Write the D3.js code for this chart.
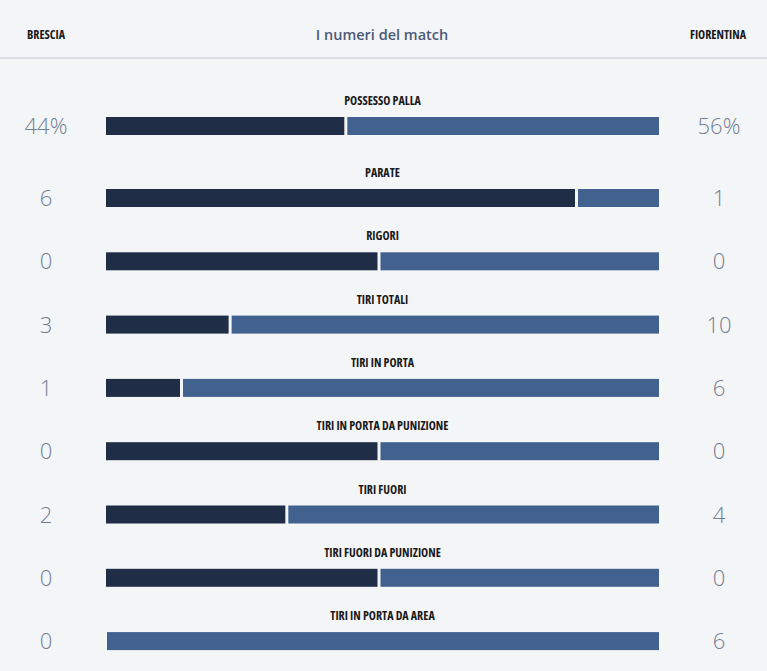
<!DOCTYPE html>
<html>
<head>
<meta charset="utf-8">
<script src="https://cdnjs.cloudflare.com/ajax/libs/d3/7.8.5/d3.min.js"></script>
<style>
  html, body { margin: 0; padding: 0; background: #f4f5f7; }
  .cond { font-family: "Open Sans", "Liberation Sans Narrow", sans-serif; font-stretch: condensed; }
</style>
</head>
<body>
<div id="chart"></div>
<script>
// match stats
var teams = ["BRESCIA", "FIORENTINA"];
var title = "I numeri del match";
var categories = ["POSSESSO PALLA", "PARATE", "RIGORI", "TIRI TOTALI", "TIRI IN PORTA",
  "TIRI IN PORTA DA PUNIZIONE", "TIRI FUORI", "TIRI FUORI DA PUNIZIONE", "TIRI IN PORTA DA AREA"];
var homeValues = [44, 6, 0, 3, 1, 0, 2, 0, 0];
var awayValues = [56, 1, 0, 10, 6, 0, 4, 0, 6];
var valueSuffix = ["%", "", "", "", "", "", "", "", ""];

var W = 767, H = 671;
var darkColor = "#1f2e46", blueColor = "#41618f";

var svg = d3.select("#chart").append("svg").attr("width", W).attr("height", H);
svg.append("rect").attr("width", W).attr("height", H).style("fill", "#f4f5f7");

// header
svg.append("text").attr("class", "cond").attr("x", 46).attr("y", 39)
  .attr("text-anchor", "middle").style("font-size", "12px").style("font-weight", 700)
  .style("fill", "#1a1a1a").text(teams[0]);
svg.append("text").attr("class", "cond").attr("x", 718).attr("y", 39)
  .attr("text-anchor", "middle").style("font-size", "12px").style("font-weight", 700)
  .style("fill", "#1a1a1a").text(teams[1]);
svg.append("text").attr("x", 382).attr("y", 40)
  .attr("text-anchor", "middle").style("font-family", "'Open Sans', sans-serif")
  .style("font-size", "14.5px").style("font-weight", 600).style("fill", "#4b5b75").text(title);
svg.append("line").attr("x1", 0).attr("x2", W).attr("y1", 58).attr("y2", 58)
  .style("stroke", "#cfd6de").style("stroke-width", 1.5);

// scales
var x = d3.scaleLinear().domain([0, 1]).range([106, 659]);
var rowTop = function(i) { return i === 0 ? 117 : 189 + (i - 1) * 63.3; };
var barH = 18;

var rows = categories.map(function(c, i) {
  var tot = homeValues[i] + awayValues[i];
  return { name: c, h: homeValues[i], a: awayValues[i], suf: valueSuffix[i],
           p: tot === 0 ? 0.5 : homeValues[i] / tot, y: rowTop(i) };
});

var g = svg.selectAll("g.row").data(rows).enter().append("g").attr("class", "row");

// label
g.append("text").attr("class", "cond")
  .attr("x", x(0.5)).attr("y", function(d) { return d.y - 12; })
  .attr("text-anchor", "middle").style("font-size", "12px").style("font-weight", 700)
  .style("fill", "#1a1a1a").text(function(d) { return d.name; });

// dark part (home)
g.filter(function(d) { return d.h > 0 || d.a === 0; }).append("rect")
  .attr("x", x(0)).attr("y", function(d) { return d.y; })
  .attr("width", function(d) { return Math.max(0, x(d.p) - x(0) - 5); })
  .attr("height", barH).style("fill", darkColor);

// blue part (away)
g.append("rect")
  .attr("x", function(d) { return d.h > 0 || d.a === 0 ? x(d.p) - 2 : x(0) + 1; })
  .attr("y", function(d) { return d.y; })
  .attr("width", function(d) { return x(1) - (d.h > 0 || d.a === 0 ? x(d.p) - 2 : x(0) + 1); })
  .attr("height", barH).style("fill", blueColor);

// values
g.append("text").attr("x", 46).attr("y", function(d) { return d.y + barH / 2 + 8; })
  .attr("text-anchor", "middle").style("font-family", "'Open Sans', sans-serif")
  .style("font-size", "22px").style("font-weight", 300).style("fill", "#717f93")
  .text(function(d) { return d.h + d.suf; });
g.append("text").attr("x", 719).attr("y", function(d) { return d.y + barH / 2 + 8; })
  .attr("text-anchor", "middle").style("font-family", "'Open Sans', sans-serif")
  .style("font-size", "22px").style("font-weight", 300).style("fill", "#717f93")
  .text(function(d) { return d.a + d.suf; });
</script>
</body>
</html>
